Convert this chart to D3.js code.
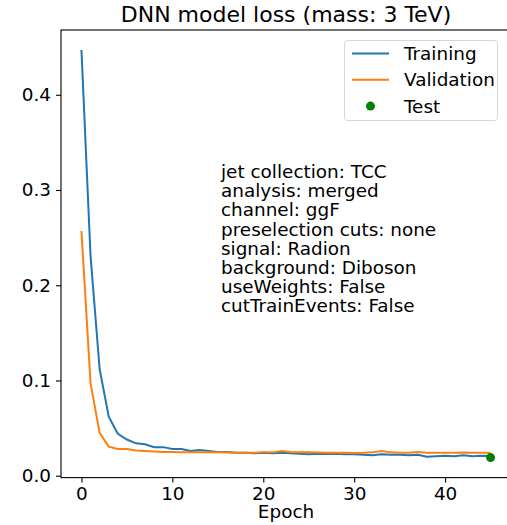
<!DOCTYPE html>
<html>
<head>
<meta charset="utf-8">
<script src="https://cdn.jsdelivr.net/npm/d3@7"></script>
<style>
  body { margin: 0; background: #fff; }
  svg { display: block; font-family: "DejaVu Sans", sans-serif; }
</style>
</head>
<body>
<div id="vis"></div>
<script>
// loss per epoch
const epochs = d3.range(0, 46);
const training = [0.447, 0.231, 0.112, 0.062, 0.044, 0.038, 0.034, 0.033, 0.030, 0.030,
  0.028, 0.028, 0.026, 0.027, 0.026, 0.025, 0.025, 0.024, 0.024, 0.0235,
  0.024, 0.0235, 0.024, 0.0235, 0.023, 0.0225, 0.023, 0.0228, 0.023, 0.0225,
  0.0225, 0.022, 0.0215, 0.0225, 0.022, 0.022, 0.0215, 0.022, 0.020, 0.0205,
  0.021, 0.0205, 0.0215, 0.0205, 0.021, 0.0207];
const validation = [0.257, 0.097, 0.045, 0.0305, 0.028, 0.028, 0.0265, 0.026, 0.0255, 0.025,
  0.0249, 0.0245, 0.0245, 0.0245, 0.0245, 0.0245, 0.0243, 0.024, 0.024, 0.0242,
  0.0245, 0.0245, 0.026, 0.025, 0.0245, 0.0245, 0.0243, 0.024, 0.024, 0.024,
  0.0238, 0.024, 0.0245, 0.026, 0.0245, 0.024, 0.024, 0.025, 0.024, 0.024,
  0.024, 0.024, 0.0243, 0.0242, 0.0242, 0.0241];
const testPoint = {epoch: 45, loss: 0.019};
const xTicks = [0, 10, 20, 30, 40];
const yTicks = [0.0, 0.1, 0.2, 0.3, 0.4];
const infoLines = ["jet collection: TCC", "analysis: merged", "channel: ggF",
  "preselection cuts: none", "signal: Radion", "background: Diboson",
  "useWeights: False", "cutTrainEvents: False"];
const legendItems = [
  {name: "Training", kind: "line", color: "#1f77b4"},
  {name: "Validation", kind: "line", color: "#ff7f0e"},
  {name: "Test", kind: "dot", color: "green"}];

const size = {width: 507, height: 525};
const frame = {left: 61, right: 511, top: 30, bottom: 477.6};
const fontSize = 18.4;

const svg = d3.select("#vis")
  .append("svg")
  .attr("width", size.width)
  .attr("height", size.height);

const x = d3.scaleLinear()
  .domain([-2.25, 47.25])
  .range([frame.left, frame.right]);
const y = d3.scaleLinear()
  .domain([-0.002, 0.468])
  .range([frame.bottom, frame.top]);

// lines
const line = (vals) => d3.line()
  .x((d, i) => x(epochs[i]))
  .y(d => y(d))(vals);

svg.append("path")
  .attr("d", line(training))
  .attr("fill", "none")
  .attr("stroke", "#1f77b4")
  .attr("stroke-width", 2);
svg.append("path")
  .attr("d", line(validation))
  .attr("fill", "none")
  .attr("stroke", "#ff7f0e")
  .attr("stroke-width", 2);
svg.append("circle")
  .attr("cx", x(testPoint.epoch))
  .attr("cy", y(testPoint.loss))
  .attr("r", 4.5)
  .attr("fill", "green");

// frame
svg.append("rect")
  .attr("x", frame.left)
  .attr("y", frame.top)
  .attr("width", frame.right - frame.left)
  .attr("height", frame.bottom - frame.top)
  .attr("fill", "none")
  .attr("stroke", "#000")
  .attr("stroke-width", 1.1);

// axes
const xAxis = svg.append("g")
  .attr("transform", `translate(0, ${frame.bottom})`)
  .call(d3.axisBottom(x).tickValues(xTicks).tickSize(5).tickPadding(4).tickFormat(d3.format("d")));
const yAxis = svg.append("g")
  .attr("transform", `translate(${frame.left}, 0)`)
  .call(d3.axisLeft(y).tickValues(yTicks).tickSize(5).tickPadding(5).tickFormat(d3.format(".1f")));
[xAxis, yAxis].forEach(a => {
  a.select(".domain").remove();
  a.selectAll("line").attr("stroke", "#000").attr("stroke-width", 1.1);
  a.selectAll("text")
    .style("font-size", fontSize + "px")
    .style("font-family", "DejaVu Sans")
    .attr("fill", "#000");
});

// labels
svg.append("text")
  .attr("x", (frame.left + frame.right) / 2)
  .attr("y", 22)
  .attr("text-anchor", "middle")
  .style("font-size", "22px")
  .text("DNN model loss (mass: 3 TeV)");
svg.append("text")
  .attr("x", (frame.left + frame.right) / 2)
  .attr("y", 518)
  .attr("text-anchor", "middle")
  .style("font-size", fontSize + "px")
  .text("Epoch");

// info block
svg.append("g")
  .selectAll("text")
  .data(infoLines)
  .join("text")
  .attr("x", 221)
  .attr("y", (d, i) => 178 + i * 19.2)
  .style("font-size", fontSize + "px")
  .text(d => d);

// legend
const legend = svg.append("g");
legend.append("rect")
  .attr("x", 344.5).attr("y", 40.5)
  .attr("width", 153).attr("height", 80)
  .attr("rx", 3)
  .attr("fill", "#fff").attr("fill-opacity", 0.8)
  .attr("stroke", "#d6d6d6");
const item = legend.selectAll(".item")
  .data(legendItems)
  .join("g")
  .attr("class", "item")
  .attr("transform", (d, i) => `translate(0, ${53.5 + i * 26.3})`);
item.filter(d => d.kind === "line").append("line")
  .attr("x1", 352).attr("x2", 389)
  .attr("stroke", d => d.color).attr("stroke-width", 2);
item.filter(d => d.kind === "dot").append("circle")
  .attr("cx", 370.5).attr("r", 4.5)
  .attr("fill", d => d.color);
item.append("text")
  .attr("x", 404)
  .attr("dy", "0.35em")
  .style("font-size", fontSize + "px")
  .text(d => d.name);
</script>
</body>
</html>
